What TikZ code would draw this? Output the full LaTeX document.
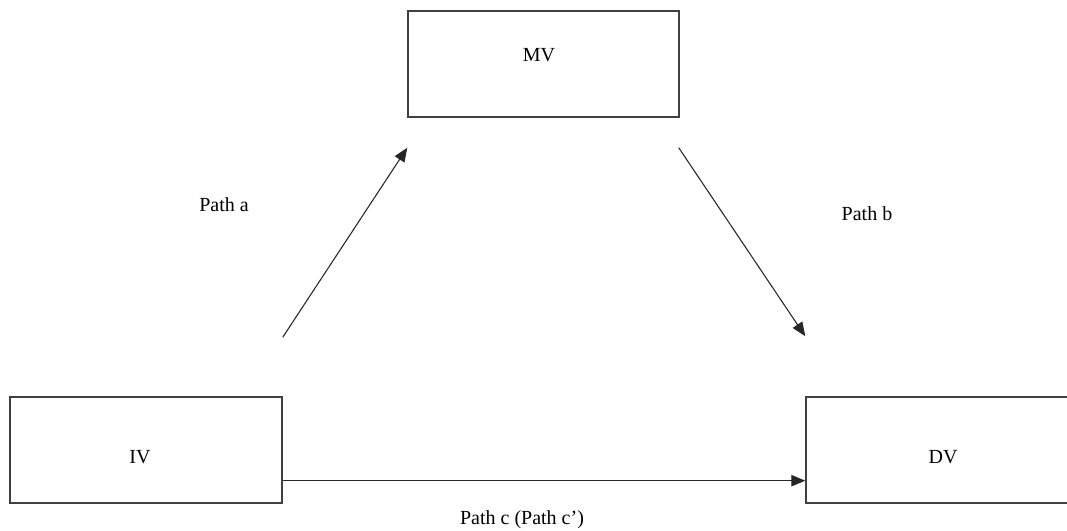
\documentclass[tikz,border=0pt]{standalone}
\usepackage{fontspec}
\setmainfont{Liberation Serif}
\usetikzlibrary{arrows.meta,calc}
\newlength\px
\setlength\px{0.75pt}
\begin{document}
\begin{tikzpicture}[x=0.75pt,y=0.75pt,
  varbox/.style={draw=black!75,line width=1.4\px,rectangle,inner sep=0pt,minimum height=106\px},
  lbl/.style={font=\fontsize{15}{18}\selectfont,text=black,inner sep=0pt},
  conn/.style={draw=black!85,line width=0.8pt,-{Triangle[length=10.5pt,width=8.5pt]}}]
\clip (0,0) rectangle (1067,531);
\fill[white] (0,0) rectangle (1067,531);
% boxes
\node[varbox,minimum width=271\px] (MV) at (543.5,467) {};
\node[varbox,minimum width=272\px] (IV) at (146,81) {};
\node[varbox,minimum width=280\px] (DV) at (946,81) {};
% box texts
\node[lbl] (MVt) at (539,476) {MV};
\node[lbl] (IVt) at (140,74) {IV};
\node[lbl] (DVt) at (943,74) {DV};
% connectors
\coordinate (aS) at ($(IV.north east)+(0,59)$);
\coordinate (aE) at ($(MV.south west)+(0,-30)$);
\coordinate (bS) at ($(MV.south east)+(-1,-30)$);
\coordinate (bE) at ($(DV.north west)+(0,60)$);
\coordinate (cS) at ($(IV.south east)+(0,23)$);
\coordinate (cE) at ($(DV.south west)+(0,23)$);
\draw[conn] (aS) -- (aE);
\draw[conn] (bS) -- (bE);
\draw[conn] (cS) -- (cE);
% path labels
\node[lbl] (pa) at (224,326) {Path a};
\node[lbl] (pb) at (867,317) {Path b};
\node[lbl] (pc) at (522,11) {Path c (Path c’)};
\end{tikzpicture}
\end{document}
